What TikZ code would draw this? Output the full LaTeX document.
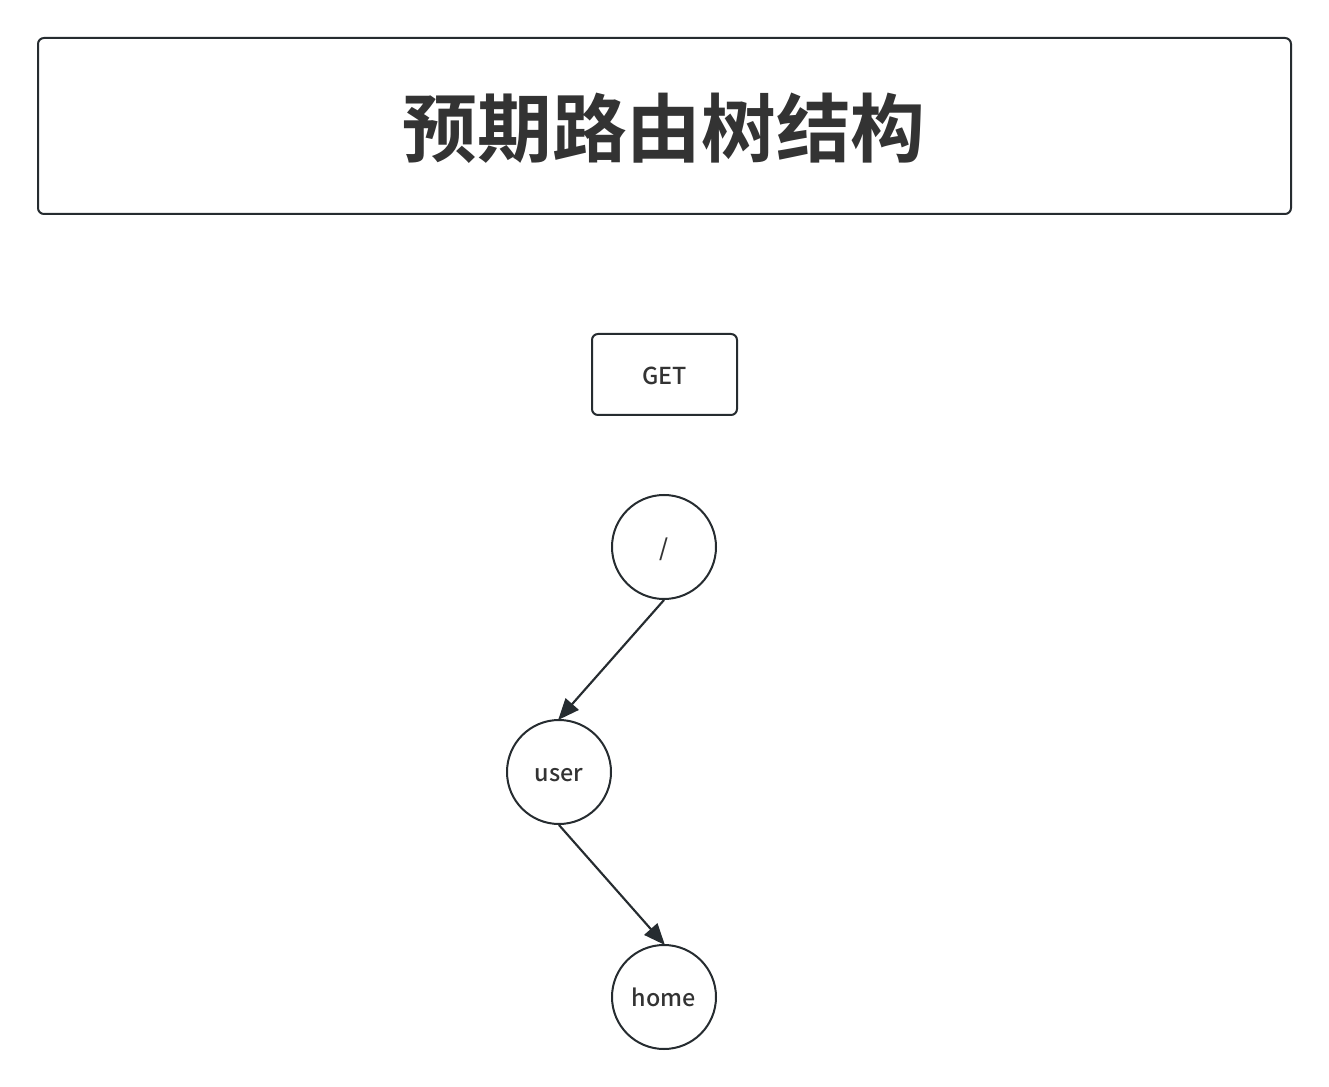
\documentclass[tikz,border=0pt]{standalone}
\usepackage{fontspec}
\setmainfont{Noto Sans}
\newfontfamily\cjkbold{Noto Sans CJK SC Bold}
\newfontfamily\labfont{Noto Sans CJK SC Medium}
\usetikzlibrary{arrows.meta}
\definecolor{linec}{HTML}{262C30}
\definecolor{textc}{HTML}{333333}
\tikzset{
  px/.style={x=0.75pt,y=-0.75pt},
  frame/.style={draw=linec,line width=1.5pt,rounded corners=4.5pt},
  labstyle/.style={text=textc,font=\labfont\fontsize{17.5}{18}\selectfont,text height=14.5pt,text depth=0pt},
  treenode/.style={circle,draw=linec,line width=1.5pt,minimum size=78pt,inner sep=0pt,labstyle},
  conn/.style={draw=linec,line width=1.6pt,-{Triangle[length=16pt,width=13pt]},shorten >=-1pt}
}
\begin{document}
\begin{tikzpicture}[px]
\useasboundingbox (0,0) rectangle (1329,1087);
\fill[white] (0,0) rectangle (1329,1087);
\draw[frame] (38,38) rectangle (1291,214);
\node (title) at (664,128) {\cjkbold\color{textc}\fontsize{56}{60}\selectfont 预期路由树结构};
\draw[frame] (592,334) rectangle (737,415);
\node[labstyle] (get) at (664.5,374.5) {GET};
\node[treenode] (root) at (664,547) {/};
\node[treenode] (user) at (559,772) {user};
\node[treenode] (home) at (664,997) {home};
\draw[conn] (root.south) -- (user.north);
\draw[conn] (user.south) -- (home.north);
\end{tikzpicture}
\end{document}
